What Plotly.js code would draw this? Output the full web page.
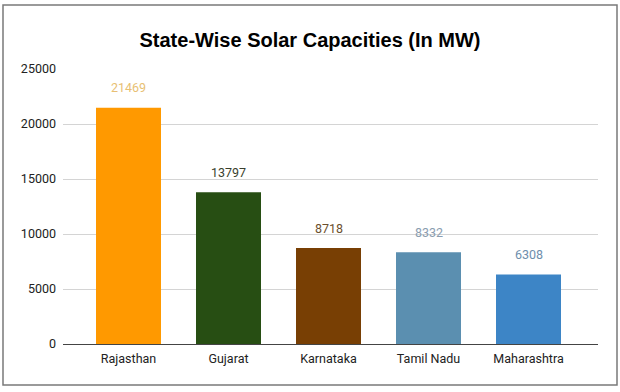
<!DOCTYPE html>
<html>
<head>
<meta charset="utf-8">
<script src="https://cdn.plot.ly/plotly-3.0.1.min.js"></script>
<style>html,body{margin:0;padding:0;background:#fff;}#chart{width:620px;height:392px;}</style>
</head>
<body>
<div id="chart"></div>
<script>
const states = ["Rajasthan", "Gujarat", "Karnataka", "Tamil Nadu", "Maharashtra"];
const capacities = [21469, 13797, 8718, 8332, 6308];
const barColors = ["#ff9900", "#274e13", "#783f04", "#5b8fb0", "#3d85c6"];
const labelColors = ["#e8bf74", "#3a3f2e", "#6b4f2e", "#8a9db0", "#6e8eac"];
const yTicks = [0, 5000, 10000, 15000, 20000, 25000];

const trace = {
  type: "bar",
  x: states,
  y: capacities,
  marker: {color: barColors},
  hoverinfo: "none"
};

const annotations = states.map((s, i) => ({
  x: s, y: capacities[i], xref: "x", yref: "y",
  text: String(capacities[i]), showarrow: false,
  yanchor: "middle", yshift: 20,
  font: {family: "Roboto, Arial, sans-serif", size: 12.5, color: labelColors[i]}
}));

const layout = {
  width: 620, height: 392,
  margin: {l: 63, r: 22, t: 69, b: 48},
  paper_bgcolor: "#ffffff", plot_bgcolor: "#ffffff",
  showlegend: false,
  bargap: 0.35,
  title: {
    text: "<b>State-Wise Solar Capacities (In MW)</b>",
    x: 0.5, xref: "container", y: 1 - 40/392, yref: "container", yanchor: "middle",
    font: {family: "Liberation Sans, Arial, sans-serif", size: 20, color: "#000"}
  },
  xaxis: {
    type: "category",
    range: [-0.655, 4.695],
    showgrid: false, zeroline: false,
    showline: true, linecolor: "#444", linewidth: 1,
    ticks: "", ticklabelstandoff: 3,
    tickfont: {family: "Roboto, Arial, sans-serif", size: 12.5, color: "#222"}
  },
  yaxis: {
    range: [0, 25000],
    tickvals: yTicks,
    ticktext: yTicks.map(String),
    showgrid: true, gridcolor: "#d4d4d4", gridwidth: 1,
    zeroline: false, showline: false,
    ticks: "", ticklabelstandoff: 6,
    tickfont: {family: "Roboto, Arial, sans-serif", size: 12.5, color: "#222"}
  },
  annotations: annotations,
  shapes: [{
    type: "rect", xref: "paper", yref: "paper",
    x0: (3 - 63) / 535, x1: (617 - 63) / 535,
    y0: (344 - 385) / 275, y1: (344 - 5) / 275,
    line: {color: "#7a7a7a", width: 1.5}, fillcolor: "rgba(0,0,0,0)", layer: "below"
  }]
};

Plotly.newPlot("chart", [trace], layout, {displayModeBar: false, staticPlot: true});
</script>
</body>
</html>
